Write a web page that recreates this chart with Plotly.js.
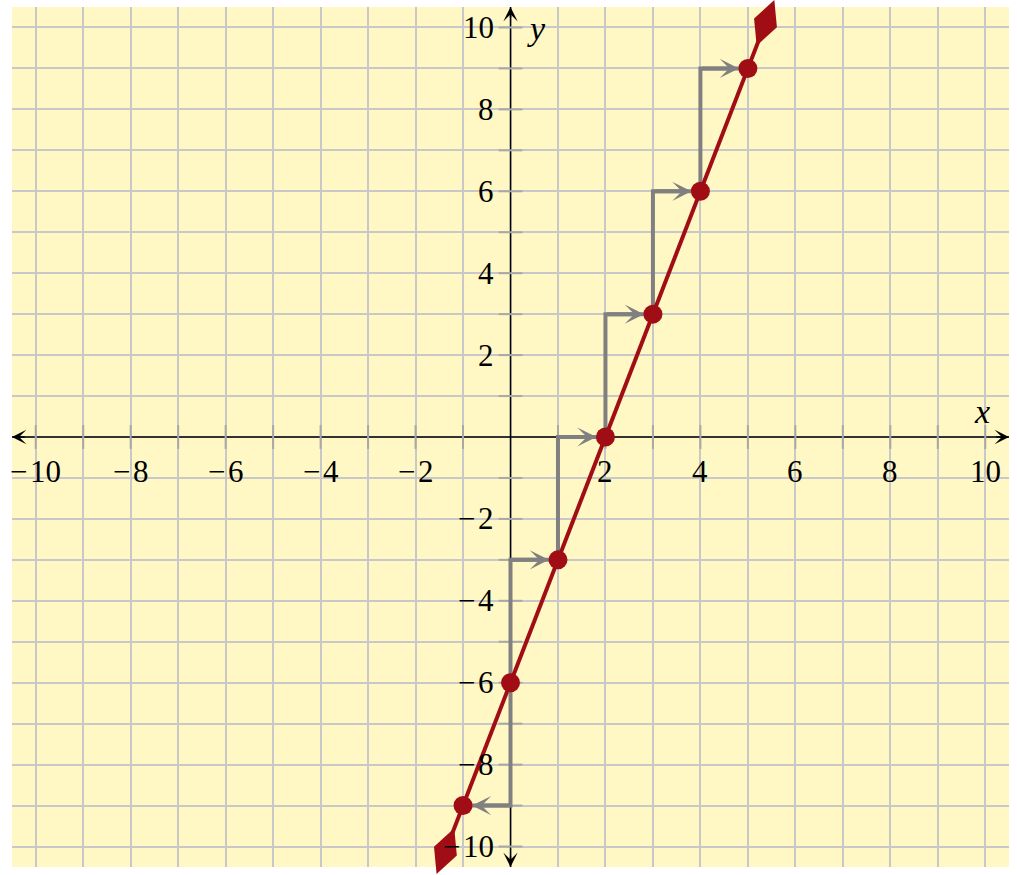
<!DOCTYPE html>
<html>
<head>
<meta charset="utf-8">
<script src="https://cdn.plot.ly/plotly-3.0.1.min.js"></script>
<style>html,body{margin:0;padding:0;background:#fff;}</style>
</head>
<body>
<div id="chart" style="width:1017px;height:875px;"></div>
<script>
// ---- data ----
const axisRange = [-10.5, 10.5];
const xTickLabels = [-10, -8, -6, -4, -2, 2, 4, 6, 8, 10];
const yTickLabels = [-10, -8, -6, -4, -2, 2, 4, 6, 8, 10];
const tickMarks = [-10, -9, -8, -7, -6, -5, -4, -3, -2, -1, 1, 2, 3, 4, 5, 6, 7, 8, 9, 10];
const pointsX = [-1, 0, 1, 2, 3, 4, 5];
const pointsY = [-9, -6, -3, 0, 3, 6, 9];
const stepX = [-1, 0, 0, 1, 1, 2, 2, 3, 3, 4, 4, 5];
const stepY = [-9, -9, -3, -3, 0, 0, 3, 3, 6, 6, 9, 9];
const stepArrowFromX = [0, 0, 1, 2, 3, 4];
const stepArrowToX = [-1, 1, 2, 3, 4, 5];
const stepArrowY = [-9, -3, 0, 3, 6, 9];
const lineX = [-1.5, 5.5];
const lineY = [-10.5, 10.5];

// ---- styles ----
const RED = '#a00d14';
const GRAY = '#808080';
const BG = '#fff8c4';
const FONT = '"Liberation Serif", "DejaVu Serif", serif';
const minus = v => (v < 0 ? '\u2212\u200a' + Math.abs(v) : String(v));

const W = 1017, H = 875;
const M = {l: 12, r: 8, t: 7, b: 8};
const pxX = (W - M.l - M.r) / (axisRange[1] - axisRange[0]);
const pxY = (H - M.t - M.b) / (axisRange[1] - axisRange[0]);

// kite arrowheads at the ends of the red line, placed along the line
const dxPx = (lineX[1] - lineX[0]) * pxX, dyPx = (lineY[1] - lineY[0]) * pxY;
const lenPx = Math.hypot(dxPx, dyPx);
const ux = dxPx / lenPx, uy = dyPx / lenPx;
const headHalf = 17;
const headX = [lineX[1] - ux * headHalf / pxX, lineX[0] + ux * headHalf / pxX];
const headY = [lineY[1] - uy * headHalf / pxY, lineY[0] + uy * headHalf / pxY];
const headAngle = Math.atan2(dxPx, dyPx) * 180 / Math.PI;

const traces = [
  {x: axisRange, y: [0, 0], mode: 'lines', line: {color: '#000', width: 1.5}, hoverinfo: 'skip'},
  {x: [0, 0], y: axisRange, mode: 'lines', line: {color: '#000', width: 1.5}, hoverinfo: 'skip'},
  {x: tickMarks, y: tickMarks.map(() => 0), mode: 'markers',
   marker: {symbol: 'line-ns', size: 17, line: {color: '#a8a8a8', width: 2}}, hoverinfo: 'skip'},
  {x: tickMarks.map(() => 0), y: tickMarks, mode: 'markers',
   marker: {symbol: 'line-ew', size: 17, line: {color: '#a8a8a8', width: 2}}, hoverinfo: 'skip'},
  {x: stepX, y: stepY, mode: 'lines', line: {color: GRAY, width: 4}, hoverinfo: 'skip'},
  {x: [headX[1], headX[0]], y: [headY[1], headY[0]], mode: 'lines', line: {color: RED, width: 4}, hoverinfo: 'skip'},
  {x: headX, y: headY, mode: 'markers', cliponaxis: false,
   marker: {symbol: 'diamond-tall', size: 35, angle: headAngle, color: RED, line: {width: 0}}, hoverinfo: 'skip'},
  {x: pointsX, y: pointsY, mode: 'markers', marker: {color: RED, size: 19}, hoverinfo: 'skip'}
];

const annotations = [];
xTickLabels.forEach(v => annotations.push({
  x: v, y: 0, xref: 'x', yref: 'y', text: minus(v), showarrow: false,
  xanchor: 'center', yanchor: 'middle', yshift: -34,
  font: {family: FONT, size: 31, color: '#000'}
}));
yTickLabels.forEach(v => annotations.push({
  x: 0, y: v, xref: 'x', yref: 'y', text: minus(v), showarrow: false,
  xanchor: 'right', yanchor: 'middle', xshift: -15,
  font: {family: FONT, size: 31, color: '#000'}
}));
annotations.push({x: 9.94, y: 0.63, xref: 'x', yref: 'y', text: '<i>x</i>', showarrow: false,
  font: {family: FONT, size: 34, color: '#000'}});
annotations.push({x: 0.55, y: 9.97, xref: 'x', yref: 'y', text: '<i>y</i>', showarrow: false,
  font: {family: FONT, size: 34, color: '#000'}});
const axArrow = (x, y, ax, ay) => ({x, y, ax, ay, xref: 'x', yref: 'y', axref: 'x', ayref: 'y',
  text: '', showarrow: true, arrowhead: 3, arrowsize: 1.6, arrowwidth: 1.5, arrowcolor: '#000'});
annotations.push(axArrow(axisRange[1], 0, axisRange[1] - 0.3, 0));
annotations.push(axArrow(axisRange[0], 0, axisRange[0] + 0.3, 0));
annotations.push(axArrow(0, axisRange[1], 0, axisRange[1] - 0.3));
annotations.push(axArrow(0, axisRange[0], 0, axisRange[0] + 0.3));
stepArrowY.forEach((y, i) => annotations.push({
  x: stepArrowToX[i], y, ax: stepArrowFromX[i], ay: y,
  xref: 'x', yref: 'y', axref: 'x', ayref: 'y', text: '', showarrow: true,
  arrowhead: 3, arrowsize: 0.8, arrowwidth: 4, arrowcolor: GRAY, standoff: 9
}));

const axisCommon = {
  range: axisRange, dtick: 1, tick0: 0, showgrid: true, gridcolor: '#c8c8c8', gridwidth: 2,
  zeroline: false, showticklabels: false, ticks: '', showline: false, fixedrange: true
};

const layout = {
  width: W, height: H,
  margin: M,
  paper_bgcolor: '#ffffff', plot_bgcolor: BG,
  showlegend: false,
  xaxis: Object.assign({}, axisCommon),
  yaxis: Object.assign({}, axisCommon),
  annotations: annotations
};

Plotly.newPlot('chart', traces, layout, {displayModeBar: false, staticPlot: true});
</script>
</body>
</html>
